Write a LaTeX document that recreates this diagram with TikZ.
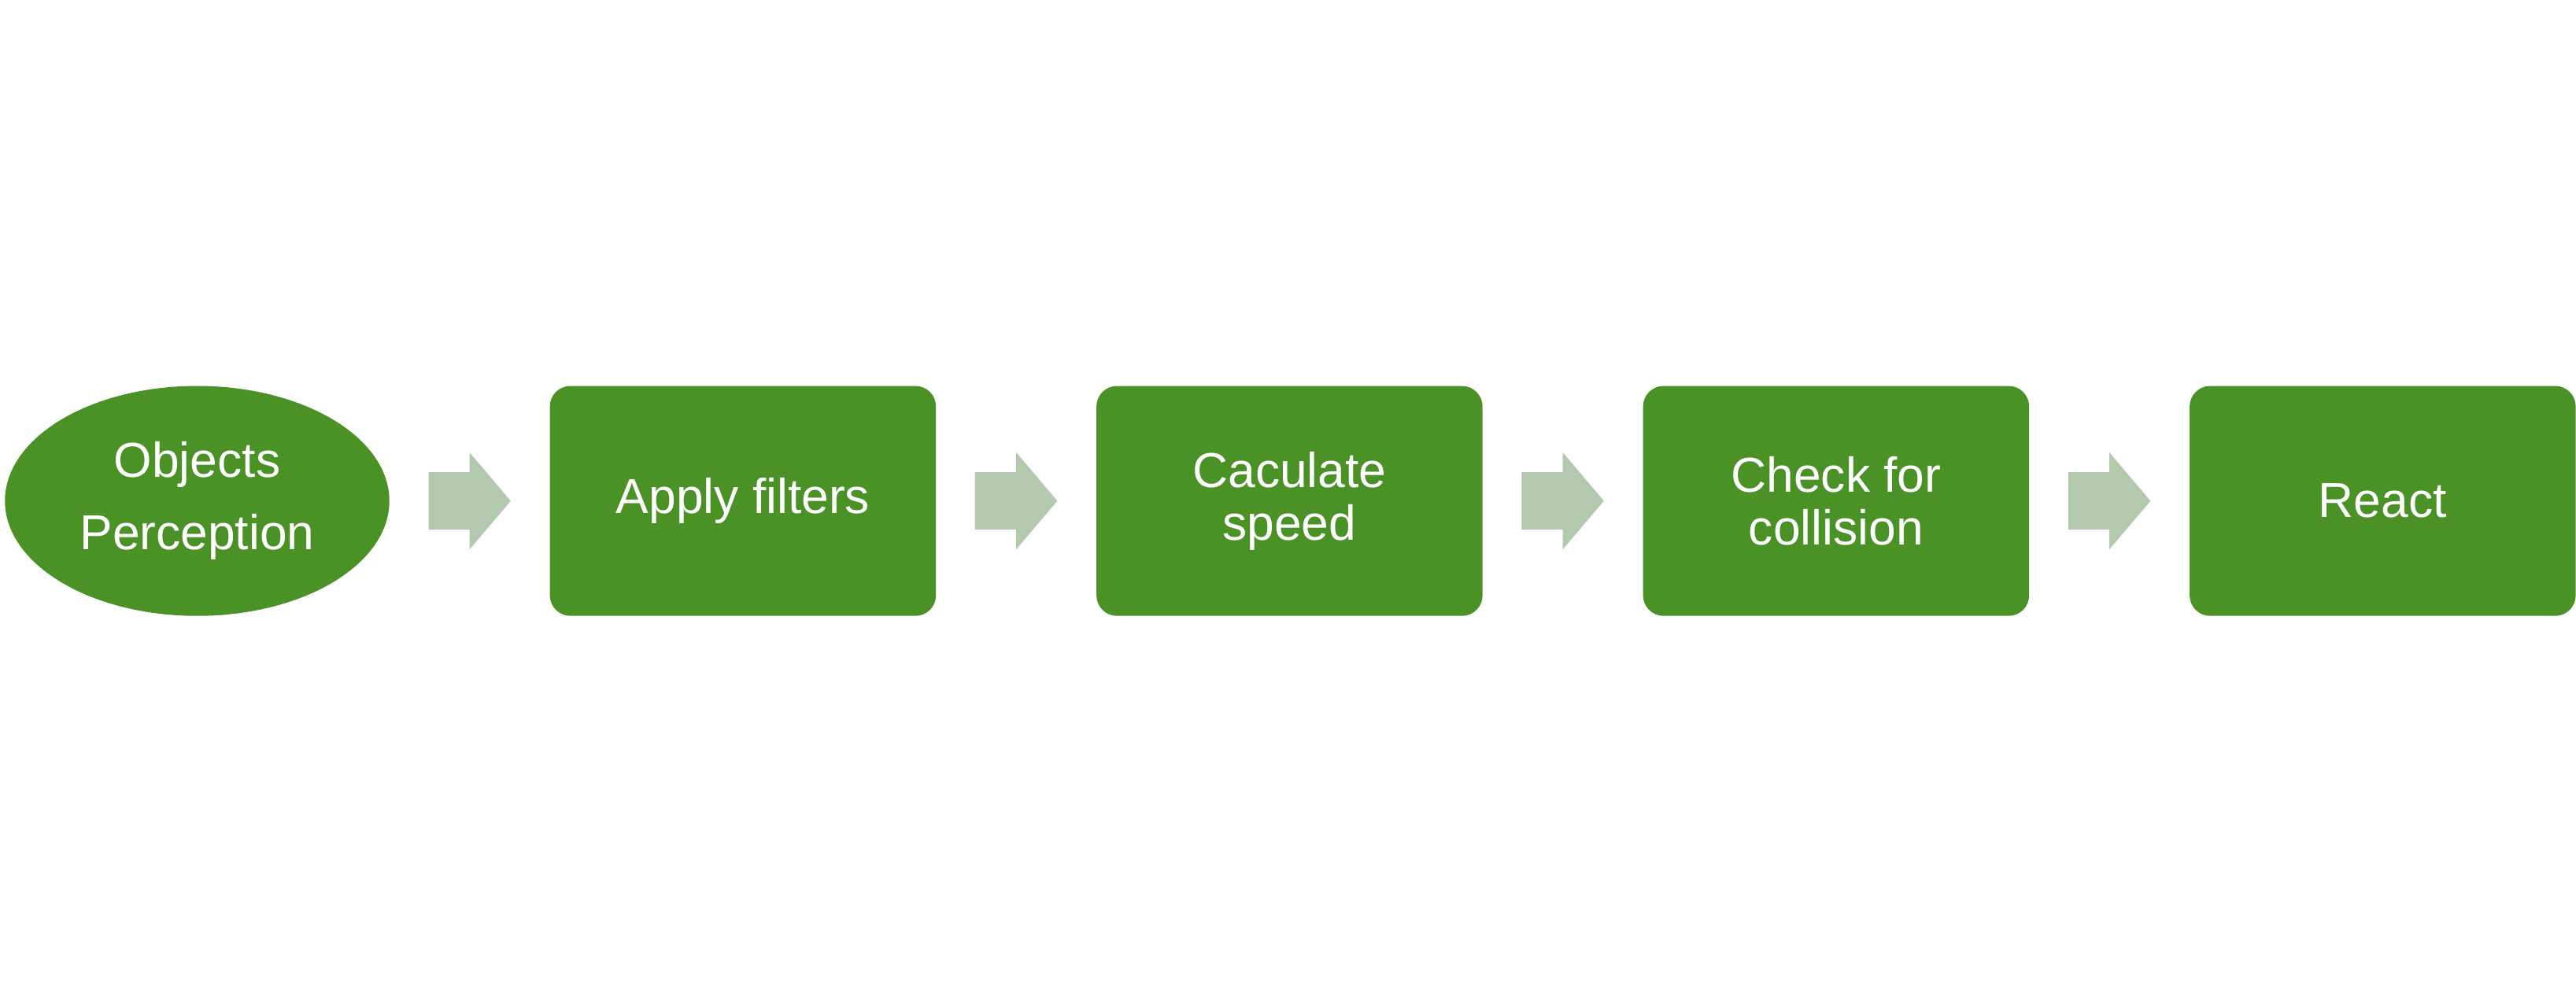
\documentclass[tikz,border=0pt]{standalone}
\usepackage{fontspec}
\setmainfont{Liberation Sans}
\usetikzlibrary{positioning,shapes.geometric,calc}
\definecolor{stepgreen}{RGB}{74,146,38}
\definecolor{arrowgreen}{RGB}{178,201,174}
\newcommand{\flowarrow}[2]{%
\path ($(#1.east)!0.5!(#2.west)$) coordinate (m);
\fill[arrowgreen] ($(m)+(-0.5,0.35)$) -- ++(0.5,0) -- ++(0,0.24) -- ($(m)+(0.5,0)$)
  -- ($(m)+(0,-0.59)$) -- ++(0,0.24) -- ++(-0.5,0) -- cycle;}

\begin{document}
\begin{tikzpicture}[
  oval/.style={ellipse, fill=stepgreen, text=white, inner sep=0pt,
    minimum width=4.68cm, minimum height=2.8cm, align=center,
    font=\fontsize{17}{25}\selectfont},
  stepbox/.style={rectangle, rounded corners=0.25cm, fill=stepgreen, text=white,
    minimum width=4.7cm, minimum height=2.8cm, align=center,
    font=\fontsize{17}{18.2}\selectfont}]
\useasboundingbox (0,0) rectangle (31.36,12.22);
\node[oval] (obj) at (2.4,6.12) {Objects\\Perception};
\node[stepbox, right=1.94cm of obj] (filt) {Apply filters};
\node[stepbox, right=1.94cm of filt] (speed) {Caculate\\speed};
\node[stepbox, right=1.94cm of speed] (coll) {Check for\\collision};
\node[stepbox, right=1.94cm of coll] (react) {React};
% block arrows between the steps
\flowarrow{obj}{filt}
\flowarrow{filt}{speed}
\flowarrow{speed}{coll}
\flowarrow{coll}{react}
\end{tikzpicture}
\end{document}
